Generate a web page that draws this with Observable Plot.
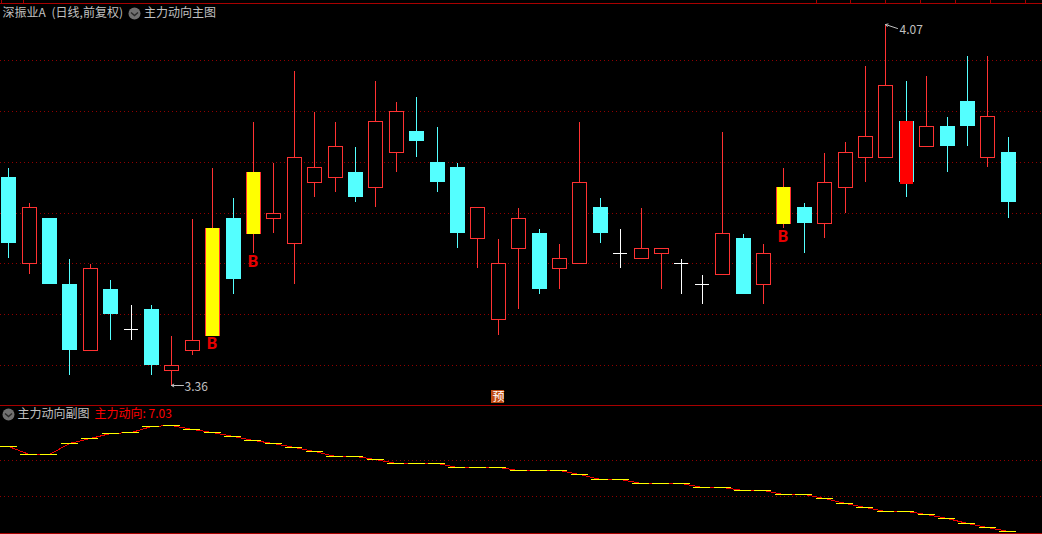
<!DOCTYPE html>
<html><head><meta charset="utf-8">
<script src="https://cdn.jsdelivr.net/npm/d3@7"></script>
<script src="https://cdn.jsdelivr.net/npm/@observablehq/plot@0.6"></script>
<style>html,body{margin:0;padding:0;background:#000;overflow:hidden}svg{display:block}</style>
</head><body><div id="c"></div>
<script>
const opens  = [3.77,3.60,3.69,3.56,3.43,3.55,3.47,3.51,3.39,3.43,3.46,3.69,3.66,3.69,3.64,3.76,3.77,3.78,3.75,3.82,3.86,3.80,3.79,3.65,3.49,3.63,3.66,3.59,3.60,3.71,3.62,3.61,3.62,3.60,3.56,3.58,3.65,3.56,3.68,3.71,3.68,3.75,3.81,3.81,3.88,3.83,3.87,3.92,3.81,3.82];
const closes = [3.64,3.71,3.56,3.43,3.59,3.50,3.47,3.40,3.40,3.45,3.67,3.57,3.78,3.70,3.81,3.79,3.83,3.73,3.88,3.90,3.84,3.76,3.66,3.71,3.60,3.69,3.55,3.61,3.76,3.66,3.62,3.63,3.63,3.60,3.56,3.66,3.54,3.62,3.75,3.68,3.76,3.82,3.85,3.95,3.76,3.87,3.83,3.87,3.89,3.72];
const highs  = [3.79,3.72,3.69,3.61,3.60,3.57,3.52,3.52,3.46,3.69,3.79,3.73,3.88,3.80,3.98,3.90,3.88,3.83,3.96,3.92,3.93,3.87,3.80,3.71,3.65,3.71,3.67,3.64,3.88,3.73,3.67,3.71,3.63,3.61,3.58,3.86,3.66,3.64,3.79,3.72,3.82,3.84,3.99,4.07,3.96,3.97,3.89,4.01,4.01,3.85];
const lows   = [3.61,3.58,3.56,3.38,3.43,3.45,3.45,3.38,3.36,3.42,3.46,3.54,3.62,3.66,3.56,3.73,3.74,3.72,3.71,3.78,3.81,3.74,3.63,3.59,3.46,3.51,3.54,3.55,3.60,3.64,3.59,3.61,3.55,3.54,3.52,3.58,3.54,3.52,3.67,3.62,3.65,3.70,3.76,3.81,3.73,3.83,3.78,3.83,3.79,3.69];
const indicator = [9.39,9.17,9.17,9.47,9.61,9.75,9.78,9.94,9.97,9.86,9.78,9.67,9.56,9.47,9.36,9.25,9.11,9.11,9.03,8.92,8.92,8.92,8.81,8.81,8.81,8.72,8.72,8.72,8.61,8.47,8.47,8.36,8.36,8.36,8.25,8.25,8.17,8.17,8.06,8.06,7.94,7.81,7.69,7.58,7.58,7.50,7.39,7.25,7.14,7.03];
const buySignals = [10,12,38];
const strongDown = [44];
const priceGrid = [3.4,3.5,3.6,3.7,3.8,3.9,4.0];
const indicatorGrid = [8,9];
const dateMarks = [-0.34,0.72,39.58,41.25,42.96,44.7,46.4,48.13,49.85];
const lowLabel = {i:8, p:3.36, text:"3.36"};
const highLabel = {i:43, p:4.07, text:"4.07"};
const title1 = "深振业A", title2 = "(日线,前复权)", title3 = "主力动向主图", subTitle = "主力动向副图", subValue = "主力动向: 7.03";
const RED="#ff3232", CYAN="#54ffff", GRAY="#c0c0c0", GRID="#900000", LINE="#a80000";
const FONT='"Noto Sans CJK SC", "Noto Sans", sans-serif';
const step=999.68/49, px=n=>n/step;
const candles=opens.map((o,i)=>({i,o,c:closes[i],h:highs[i],l:lows[i],top:Math.max(o,closes[i]),bot:Math.min(o,closes[i]),
  color:closes[i]>o?RED:closes[i]<o?CYAN:"#fff"}));
const crisp={shapeRendering:"crispEdges"};
const chevron={draw(c){c.moveTo(-3.5,-1);c.lineTo(0,2);c.lineTo(3.5,-1);}};
const badge=(dx,dy)=>[
  Plot.dot([0],{frameAnchor:"top-left",dx,dy,r:6,fill:"#707070"}),
  Plot.dot([0],{frameAnchor:"top-left",dx,dy,symbol:chevron,r:4,stroke:"#2a2a2a",strokeWidth:1.5,fill:"none"})
];
const label=(t,dx,dy,fill=GRAY)=>Plot.text([t],{text:d=>d,frameAnchor:"top-left",dx,dy,textAnchor:"start",lineAnchor:"middle",fill,fontSize:12,fontFamily:FONT});
const X={domain:[0,49],range:[8.12,1007.8],axis:null,round:true};
const main=Plot.plot({width:1042,height:405,margin:0,x:X,
  y:{domain:[3.32131,4.11804],range:[405,0],axis:null,round:true},
  style:{background:"#000",fontFamily:FONT},
  marks:[
    Plot.ruleY(priceGrid,{y:d=>d,stroke:GRID,strokeDasharray:"1,3"}),
    Plot.ruleY([4.1121],{stroke:LINE,...crisp}),
    Plot.ruleX(dateMarks,{x:d=>d,y1:4.11804,y2:4.1121,stroke:LINE,...crisp}),
    Plot.ruleX(candles,{x:"i",y1:"h",y2:"l",stroke:"color",insetTop:1,...crisp}),
    Plot.rect(candles.filter(d=>d.c>d.o),{x1:d=>d.i-px(7),x2:d=>d.i+px(7),y1:"bot",y2:"top",stroke:"color",fill:"#000",...crisp}),
    Plot.rect(candles.filter(d=>d.c<d.o),{x1:d=>d.i-px(7),x2:d=>d.i+px(8),y1:"bot",y2:"top",fill:CYAN,...crisp}),
    Plot.ruleY(candles.filter(d=>d.c===d.o),{y:"c",x1:d=>d.i-px(7),x2:d=>d.i+px(7),stroke:"#fff",...crisp}),
    Plot.rect(candles.filter(d=>buySignals.includes(d.i)),{x1:d=>d.i-px(6),x2:d=>d.i+px(6),y1:"bot",y2:"top",stroke:"#ffff00",fill:"#ffff00",...crisp}),
    Plot.rect(candles.filter(d=>strongDown.includes(d.i)),{x1:d=>d.i-px(6),x2:d=>d.i+px(6),y1:"bot",y2:"top",stroke:"#ff0000",fill:"#ff0000",insetBottom:-1,...crisp}),
    Plot.text(candles.filter(d=>buySignals.includes(d.i)),{x:"i",y:"l",text:()=>"B",fill:"#e60000",fontSize:16.5,fontWeight:"bold",fontFamily:'Roboto',lineAnchor:"top",dy:1.5,dx:-0.5}),
    Plot.arrow([lowLabel],{x1:d=>d.i+px(11.5),y1:"p",x2:"i",y2:"p",stroke:GRAY,strokeWidth:1,headLength:4,bend:false}),
    Plot.text([lowLabel],{x:"i",y:"p",text:"text",dx:13,dy:2,textAnchor:"start",fill:GRAY,fontSize:12,fontFamily:FONT}),
    Plot.arrow([highLabel],{x1:d=>d.i+px(11.5),y1:d=>d.p-0.008,x2:"i",y2:"p",stroke:GRAY,strokeWidth:1,headLength:4,bend:false}),
    Plot.text([highLabel],{x:"i",y:"p",text:"text",dx:14,dy:6,textAnchor:"start",fill:GRAY,fontSize:12,fontFamily:FONT}),
    Plot.rect([{i:24}],{x1:d=>d.i-px(6.5),x2:d=>d.i+px(6.5),y1:3.3245,y2:3.35,fill:"#c04a10",...crisp}),
    Plot.text([{i:24}],{x:"i",y:3.337,text:()=>"预",fill:"#fff",fontSize:12,fontFamily:FONT}),
    label(title1,2,13),label(title2,51,13),...badge(134,13),label(title3,143.5,13)
  ]});
const series=indicator.map((v,i)=>({i,v}));
const sub=Plot.plot({width:1042,height:129,margin:0,x:X,
  y:{domain:[6.9527,10.536],range:[129,0],axis:null,round:true},
  style:{background:"#000",fontFamily:FONT},
  marks:[
    Plot.ruleY(indicatorGrid,{y:d=>d,stroke:GRID,strokeDasharray:"1,3"}),
    Plot.ruleY([10.536,6.98],{stroke:LINE,...crisp}),
    Plot.line(series,{x:"i",y:"v",stroke:"#f00000",strokeWidth:1,...crisp}),
    Plot.ruleY(series,{y:"v",x1:d=>d.i-px(8.5),x2:d=>d.i+px(8.5),stroke:"#ffff00",...crisp}),
    ...badge(8,9),label(subTitle,17,9),label(subValue,94,9,"#ff0000")
  ]});
document.getElementById("c").append(main,sub);
</script></body></html>
